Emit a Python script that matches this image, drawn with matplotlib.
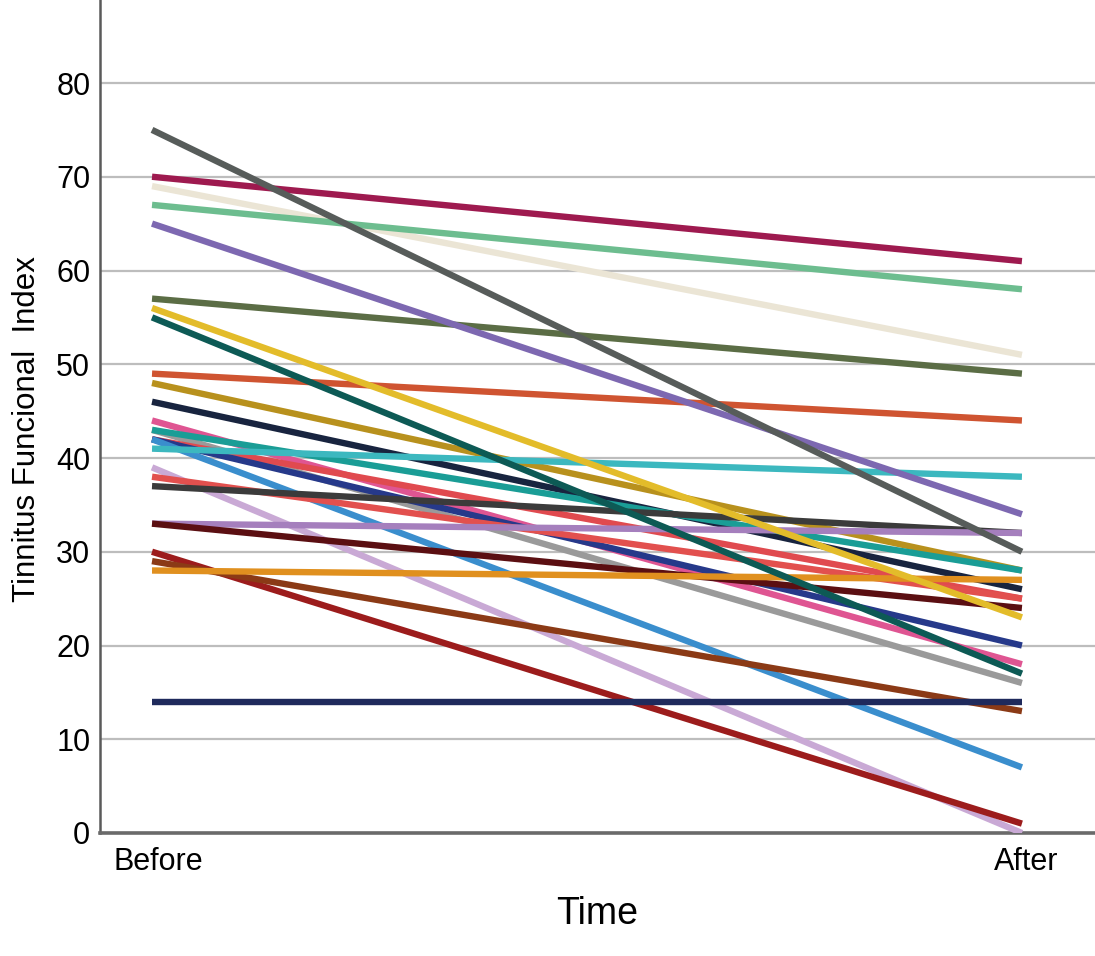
#!/usr/bin/env python3

import matplotlib
matplotlib.use("Agg")
import matplotlib.pyplot as plt
import matplotlib.transforms as mtransforms

# scores per patient, before and after treatment
before = [69, 67, 57, 49, 48, 46, 44, 43, 43, 42, 42, 42, 41, 39, 38, 37,
          33, 33, 30, 29, 28, 14, 56, 55, 65, 70, 75]
after = [51, 58, 49, 44, 28, 26, 18, 16, 28, 25, 20, 7, 38, 0, 25, 32,
         32, 24, 1, 13, 27, 14, 23, 17, 34, 61, 30]
colors = ["#ebe5d5", "#6dbd8f", "#5b6d45", "#cf5431", "#b8911d", "#18243f",
          "#df5592", "#9a9a9a", "#1a9d96", "#e04a4f", "#26398a", "#3a8ecd",
          "#3cb8bf", "#c9a9d5", "#e2504e", "#3b3b3b", "#a57fbd", "#5b0f12",
          "#9c1c1c", "#8b3a16", "#e0901f", "#1f2a5c", "#e3bc2a", "#0d5a55",
          "#7d68b1", "#9e1a4f", "#575c5a"]
time_labels = ["Before", "After"]
yticks = [0, 10, 20, 30, 40, 50, 60, 70, 80]

plt.rcParams['font.family'] = ['Liberation Sans', 'DejaVu Sans']

fig = plt.figure(figsize=(10.95, 9.56), dpi=100)
ax = fig.add_axes([100 / 1095, 1 - 833 / 956, 995 / 1095, 833 / 956])

for b, a, c in zip(before, after, colors):
    ax.plot([0, 1], [b, a], color=c, lw=4.6, solid_capstyle='butt', zorder=3)

ax.set_xlim(-0.0598, 1.084)
ax.set_ylim(0, 833 / 9.375)
ax.set_xticks([0, 1])
ax.set_xticklabels(time_labels, fontsize=22)
ax.set_yticks(yticks)
ax.set_yticklabels([str(v) for v in yticks], fontsize=22)
ax.tick_params(length=0, pad=7)
ax.tick_params(axis='x', pad=10)

# the labels sit a little off the tick in the original
shift = [6, 4]
for lab, dx in zip(ax.get_xticklabels(), shift):
    lab.set_transform(lab.get_transform() +
                      mtransforms.ScaledTranslation(dx / 100, 0, fig.dpi_scale_trans))

ax.yaxis.grid(True, color="#bdbdbd", lw=1.6)
ax.set_axisbelow(True)
for s in ['top', 'right']:
    ax.spines[s].set_visible(False)
ax.spines['left'].set_color("#5a5a5a")
ax.spines['left'].set_linewidth(1.8)
ax.spines['bottom'].set_color("#6a6a6a")
ax.spines['bottom'].set_linewidth(2.6)

ax.set_ylabel("Tinnitus Funcional  Index", fontsize=22.5)
ax.yaxis.set_label_coords(-0.058, 0.485)
ax.set_xlabel("Time", fontsize=27, labelpad=14)

plt.savefig("out.png", dpi=100)
